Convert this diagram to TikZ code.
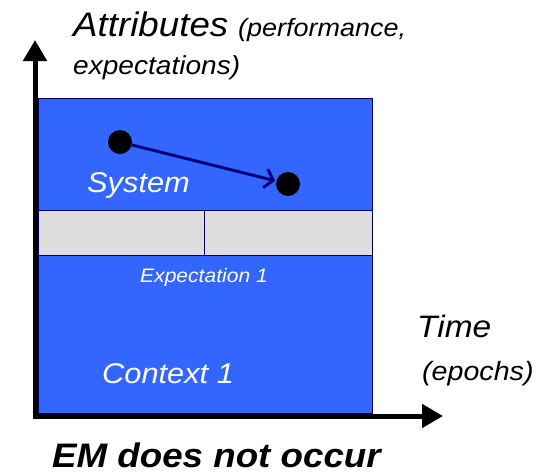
\documentclass[tikz,border=0pt]{standalone}
\usepackage{fontspec}
\setmainfont{Liberation Sans}[FakeStretch=1.08]
\usetikzlibrary{arrows.meta}
\definecolor{ctxblue}{HTML}{3366FF}
\definecolor{bandgray}{HTML}{DDDDDD}
\definecolor{navy}{HTML}{000080}

\begin{document}
\begin{tikzpicture}[>={Triangle[width=23pt,length=21pt]}, box/.style={draw=navy!70!black, line width=0.8pt, inner sep=0pt, outer sep=0pt}, dot/.style={circle, fill=black, minimum size=24pt, inner sep=0pt}, lbl/.style={anchor=base west, inner sep=0pt, font=\itshape}]
  \useasboundingbox (0pt, 0pt) rectangle (548pt, -474pt);
  \draw (205.0pt, -255.5pt)node[box, fill=ctxblue, minimum width=334pt, minimum height=315pt](ctx){};
  \draw (121.0pt, -232.5pt)node[box, fill=bandgray, minimum width=166pt, minimum height=45pt](e0){};
  \draw (288.0pt, -232.5pt)node[box, fill=bandgray, minimum width=168pt, minimum height=45pt](e1){};
  \coordinate (ytip) at (35.0pt, -40.0pt);
  \coordinate (xtip) at (443.0pt, -416.0pt);
  \draw[<->, line width=5pt, line join=miter] (ytip) |- (xtip);
  \draw (120.0pt, -142.0pt)node[dot](0){};
  \draw (288.0pt, -184.0pt)node[dot](1){};
  \draw[-{Straight Barb[length=8pt,width=19pt]}, navy, line width=3pt, shorten >=1pt] (0) -- (1);
  \draw (87.0pt, -192.0pt)node[lbl, white, font=\itshape\fontsize{28.5}{33}\selectfont](sys){System};
  \draw (140.0pt, -282.0pt)node[lbl, white, font=\itshape\fontsize{19.5}{23}\selectfont](exp){Expectation 1};
  \draw (102.0pt, -383.0pt)node[lbl, white, font=\itshape\fontsize{28.5}{33}\selectfont](con){Context 1};
  \draw (73.0pt, -36.0pt)node[lbl, font=\itshape\fontsize{34}{40}\selectfont](att){Attributes};
  \draw (238.0pt, -36.0pt)node[lbl, font=\itshape\fontsize{25}{30}\selectfont](perf){(performance,};
  \draw (73.0pt, -74.0pt)node[lbl, font=\itshape\fontsize{26}{31}\selectfont](expn){expectations)};
  \draw (417.0pt, -337.0pt)node[lbl, font=\itshape\fontsize{31}{36}\selectfont](time){Time};
  \draw (422.0pt, -380.0pt)node[lbl, font=\itshape\fontsize{26.5}{31}\selectfont](epo){(epochs)};
  \draw (52.0pt, -467.0pt)node[lbl, font=\bfseries\itshape\fontsize{34}{40}\selectfont](em){EM does not occur};
\end{tikzpicture}
\end{document}
